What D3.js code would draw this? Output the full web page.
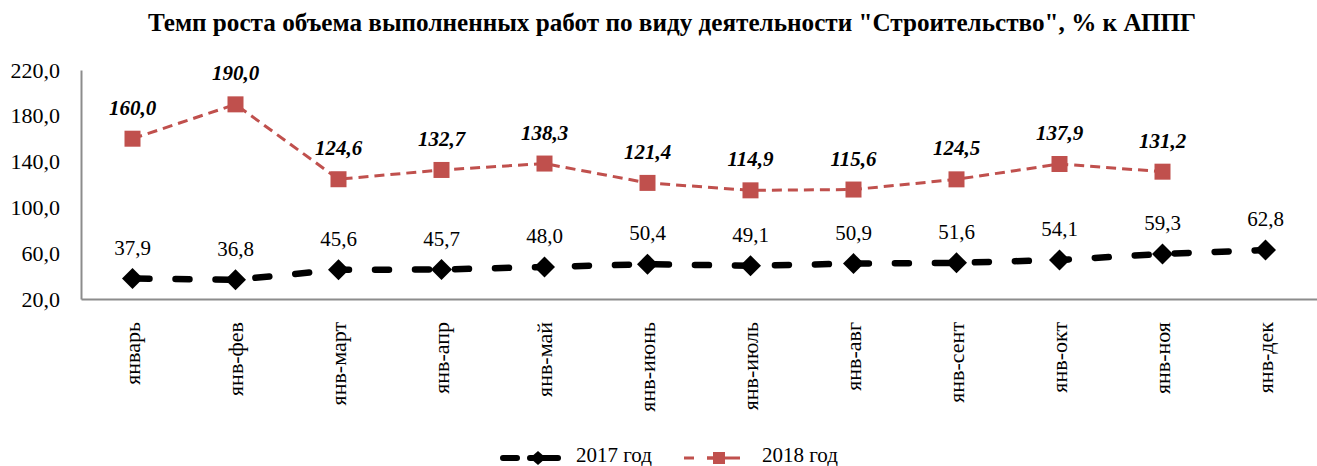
<!DOCTYPE html>
<html><head><meta charset="utf-8">
<script src="https://cdn.jsdelivr.net/npm/d3@7"></script>
<style>body{margin:0;background:#fff}svg{display:block}</style>
</head><body>
<svg id="c" width="1317" height="466"></svg>
<script>
const categories=["январь","янв-фев","янв-март","янв-апр","янв-май","янв-июнь","янв-июль","янв-авг","янв-сент","янв-окт","янв-ноя","янв-дек"];
const values2017=[37.9,36.8,45.6,45.7,48.0,50.4,49.1,50.9,51.6,54.1,59.3,62.8];
const values2018=[160.0,190.0,124.6,132.7,138.3,121.4,114.9,115.6,124.5,137.9,131.2];
const yTicks=[20,60,100,140,180,220];
const seriesNames=["2017 год","2018 год"];
const title='Темп роста объема выполненных работ по виду деятельности "Строительство", % к АППГ';

const FONT='"Liberation Serif","Times New Roman",serif';
const svg=d3.select("#c");
const L=81,R=1317,T=70,B=299;
const x=d3.scaleBand().domain(categories).range([L,R]);
const y=d3.scaleLinear().domain([20,220]).range([B,T]);
const fmt=v=>v.toFixed(1).replace(".",",");
const cx=d=>x(d)+x.bandwidth()/2;
const red="#C0504D";

const tt=svg.append("text").attr("x",672).attr("y",31).attr("text-anchor","middle")
 .style("font-family",FONT).attr("font-size",24).attr("font-weight","bold").text(title);
const tw=tt.node().getComputedTextLength();
if(tw>0){const fs=Math.max(20,Math.min(27,24*1049/tw));tt.attr("font-size",fs);}

// axes
const ya=svg.append("g").attr("transform",`translate(${L},0)`)
 .call(d3.axisLeft(y).tickValues(yTicks).tickSize(0).tickPadding(21).tickFormat(fmt));
ya.select(".domain").attr("stroke","#8c8c8c").attr("stroke-width",2);
ya.selectAll("text").attr("font-size",22).attr("fill","#000").style("font-family",FONT);

const xa=svg.append("g").attr("transform",`translate(0,${B})`)
 .call(d3.axisBottom(x).tickSize(0).tickSizeOuter(0));
xa.select(".domain").attr("stroke","#8c8c8c").attr("stroke-width",2);
xa.selectAll("text").attr("font-size",22).attr("fill","#000").style("font-family",FONT)
 .attr("transform","rotate(-90)").attr("text-anchor","end").attr("x",-23).attr("y",0).attr("dy","0.33em");

const d18=values2018.map((v,i)=>({c:categories[i],v}));
const d17=values2017.map((v,i)=>({c:categories[i],v}));
const line=d3.line().x(d=>cx(d.c)).y(d=>y(d.v));
svg.append("path").datum(d18).attr("d",line).attr("fill","none").attr("stroke",red)
 .attr("stroke-width",3).attr("stroke-dasharray","10,6");
svg.append("path").datum(d17).attr("d",line).attr("fill","none").attr("stroke","#000")
 .attr("stroke-width",6.5).attr("stroke-dasharray","14,26").attr("stroke-dashoffset",-3).attr("stroke-linecap","round");

svg.selectAll(".sq").data(d18).join("rect").attr("x",d=>cx(d.c)-8).attr("y",d=>y(d.v)-8)
 .attr("width",16).attr("height",16).attr("fill",red);
const dia=(w,h)=>`M0,${-h}L${w},0L0,${h}L${-w},0Z`;
svg.selectAll(".dm").data(d17).join("path").attr("d",dia(10.5,10.5))
 .attr("transform",d=>`translate(${cx(d.c)},${y(d.v)})`).attr("fill","#000");

svg.selectAll(".l18").data(d18).join("text").attr("x",d=>cx(d.c)).attr("y",d=>y(d.v)-24)
 .attr("text-anchor","middle").style("font-family",FONT).attr("font-size",21).attr("font-weight","bold").attr("font-style","italic").text(d=>fmt(d.v));
svg.selectAll(".l17").data(d17).join("text").attr("x",d=>cx(d.c)).attr("y",d=>y(d.v)-24)
 .attr("text-anchor","middle").style("font-family",FONT).attr("font-size",21).text(d=>fmt(d.v));

// legend
const lg=svg.append("g").attr("transform","translate(0,458)");
lg.append("line").attr("x1",503).attr("x2",558).attr("stroke","#000").attr("stroke-width",6)
 .attr("stroke-dasharray","14,22").attr("stroke-linecap","round");
lg.append("line").attr("x1",530).attr("x2",558).attr("stroke","#000").attr("stroke-width",6).attr("stroke-linecap","round");
lg.append("path").attr("d",dia(8,7)).attr("transform","translate(538,0)");
lg.append("text").attr("x",576).attr("y",4).style("font-family",FONT).attr("font-size",21).text(seriesNames[0]);
lg.append("line").attr("x1",684).attr("x2",740).attr("stroke",red).attr("stroke-width",3).attr("stroke-dasharray","10,13");
lg.append("line").attr("x1",707).attr("x2",730).attr("stroke",red).attr("stroke-width",3);
lg.append("rect").attr("x",713).attr("y",-6).attr("width",12).attr("height",12).attr("fill",red);
lg.append("text").attr("x",762).attr("y",4).style("font-family",FONT).attr("font-size",21).text(seriesNames[1]);
</script>
</body></html>
